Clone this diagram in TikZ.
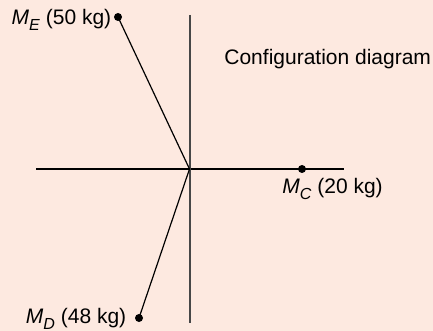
\documentclass[tikz,border=0pt]{standalone}
\usepackage{fontspec}
\setmainfont{Liberation Sans}
\usepackage{xcolor}
\usetikzlibrary{positioning}

\definecolor{bgpeach}{RGB}{253,233,224}
\newcommand{\massname}[1]{\textit{M}\raisebox{-3pt}{\footnotesize\textit{#1}}}

\begin{document}
\begin{tikzpicture}[x=0.5pt, y=-0.5pt,
  mass/.style={circle, fill=black, inner sep=0, minimum size=4pt},
  arm/.style={black, line width=0.6pt},
  lbl/.style={inner sep=0, font=\fontsize{10.5}{12.5}\selectfont}]
  \fill[bgpeach] (0,0) rectangle (433,331);
  \useasboundingbox (0,0) rectangle (433,331);
  % axes
  \coordinate (o) at (189.5,169);
  \coordinate (ytop) at (189.5,15);
  \coordinate (ybot) at (189.5,323);
  \coordinate (xl) at (36,169);
  \coordinate (xr) at (344,169);
  \draw[black, line width=0.75pt] (xl) -- (xr);
  \draw[black!72, line width=1pt] (ytop) -- (ybot);
  % masses
  \node[mass] (me) at (118,17) {};
  \node[mass] (mc) at (302,169) {};
  \node[mass] (md) at (139,318) {};
  \draw[arm] (o) -- (me.center);
  \draw[arm] (o) -- (md.center);
  \node[lbl, left=1pt of me, anchor=base east, yshift=-4pt] (lme) {\massname{E} (50 kg)};
  \node[lbl, anchor=base west] (lmc) at ([xshift=-10pt, yshift=-12pt]mc.center) {\massname{C} (20 kg)};
  \node[lbl, left=4pt of md, anchor=base east, yshift=-2.5pt] (lmd) {\massname{D} (48 kg)};
  \node[lbl, anchor=base west] (cfg) at (224,65) {Configuration diagram};
\end{tikzpicture}
\end{document}
